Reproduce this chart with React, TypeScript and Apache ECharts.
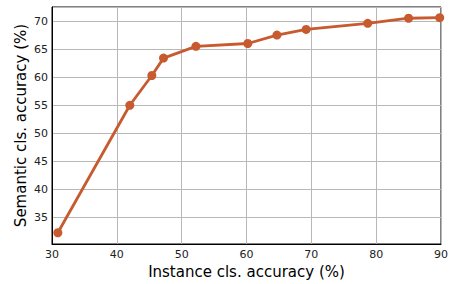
import React, { useEffect, useRef } from "react";
import * as echarts from "echarts";

const instanceAcc = [30.9, 42.0, 45.4, 47.2, 52.2, 60.2, 64.7, 69.2, 78.7, 85.0, 89.8];
const semanticAcc = [32.3, 55.0, 60.3, 63.4, 65.5, 66.0, 67.5, 68.5, 69.6, 70.5, 70.6];
const xTitle = "Instance cls. accuracy (%)";
const yTitle = "Semantic cls. accuracy (%)";

export default function App() {
  const ref = useRef<HTMLDivElement>(null);
  useEffect(() => {
    if (!ref.current) return;
    const chart = echarts.init(ref.current, null, { renderer: "svg" });
    const font = "DejaVu Sans";
    chart.setOption({
      animation: false,
      grid: {
        left: 52,
        right: 7,
        top: 7,
        bottom: 38,
        show: true,
        borderColor: "#000",
        borderWidth: 1,
        backgroundColor: "transparent",
      },
      xAxis: {
        type: "value",
        min: 30,
        max: 90,
        interval: 10,
        name: xTitle,
        nameLocation: "middle",
        nameGap: 20,
        nameMoveOverlap: false,
        nameTextStyle: { fontFamily: font, fontSize: 15, color: "#000", verticalAlign: "top" },
        axisLine: { show: true, lineStyle: { color: "#000", width: 1 } },
        axisTick: { show: false },
        axisLabel: { fontFamily: font, fontSize: 11, color: "#222", margin: 5 },
        splitLine: { show: true, lineStyle: { color: "#b8b8b8", width: 1 } },
      },
      yAxis: {
        type: "value",
        min: 30.3,
        max: 72.5,
        splitNumber: 8,
        name: yTitle,
        nameLocation: "middle",
        nameGap: 24,
        nameMoveOverlap: false,
        nameRotate: 90,
        nameTextStyle: { fontFamily: font, fontSize: 15, color: "#000" },
        axisLine: { show: true, lineStyle: { color: "#000", width: 1 } },
        axisTick: { show: false },
        axisLabel: {
          fontFamily: font,
          fontSize: 11,
          color: "#222",
          margin: 4,
          showMinLabel: false,
          showMaxLabel: false,
        },
        splitLine: { show: true, lineStyle: { color: "#b8b8b8", width: 1 } },
      },
      series: [
        {
          type: "line",
          data: instanceAcc.map((x, i) => [x, semanticAcc[i]]),
          symbol: "circle",
          symbolSize: 9,
          lineStyle: { color: "#C75A2E", width: 2.8 },
          itemStyle: { color: "#C75A2E" },
          clip: false,
        },
      ],
    });
    return () => chart.dispose();
  }, []);
  return <div ref={ref} style={{ width: 451, height: 284, position: "absolute", left: 0, top: 0 }} />;
}
